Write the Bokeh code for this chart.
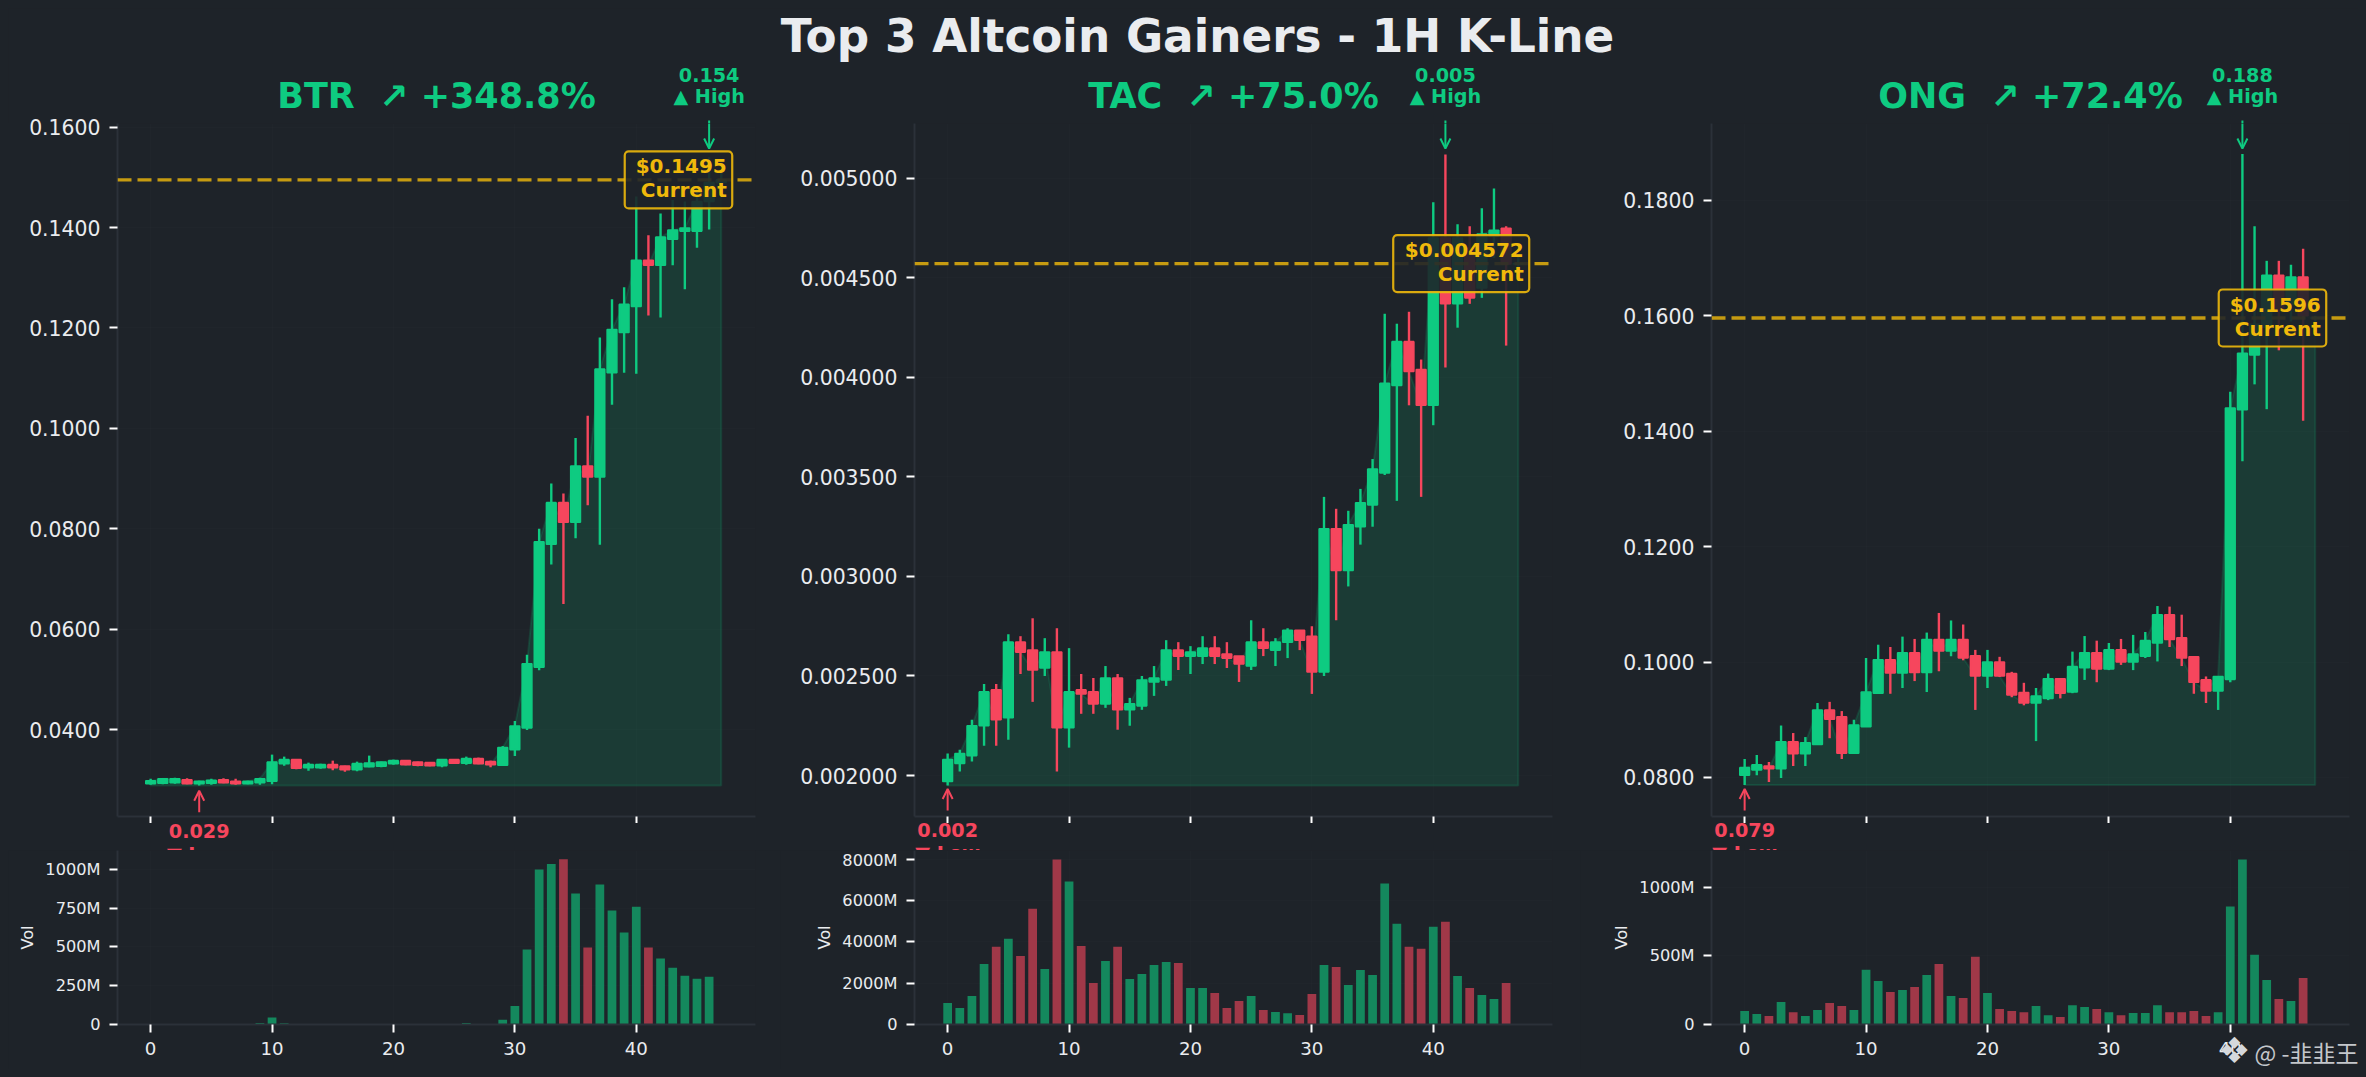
from bokeh.plotting import figure
from bokeh.layouts import column, row
from bokeh.models import (Range1d, FixedTicker, PrintfTickFormatter, Label, Span, BoxAnnotation,
                          Arrow, OpenHead, ColumnDataSource)
from bokeh.embed import file_html
from bokeh.resources import INLINE

BG = "#1e2329"
UP = "#0ecb81"
DOWN = "#f6465d"
GOLD = "#f0b90b"
SPINE = "#2b3139"
TXT = "#eaecef"

title_text = "Top 3 Altcoin Gainers - 1H K-Line"
x_ticks = [0, 10, 20, 30, 40]

# ---------- BTR
btr_name = "BTR\u00a0\u00a0↗ +348.8%"
btr_open = [.0292,.0293,.0294,.0300,.0292,.0293,.0300,.0297,.0292,.0294,.0297,.0332,.0340,.0324,.0324,.0330,.0327,.0320,.0326,.0327,.0332,.0338,.0335,.0334,.0328,.0340,.0333,.0342,.0336,.0329,.0360,.0403,.0524,.0769,.0852,.0813,.0925,.0903,.1111,.1191,.1243,.1335,.1325,.1377,.1393,.1393,.1452,.1490]
btr_high = [.0302,.0303,.0304,.0303,.0298,.0302,.0303,.0302,.0298,.0304,.0350,.0346,.0341,.0334,.0332,.0338,.0328,.0336,.0348,.0336,.0340,.0339,.0336,.0335,.0341,.0341,.0346,.0344,.0338,.0367,.0417,.0549,.0800,.0890,.0870,.0981,.1025,.1181,.1257,.1281,.1462,.1385,.1428,.1455,.1452,.1480,.1540,.1510]
btr_low = [.0290,.0291,.0292,.0291,.02885,.0290,.0293,.0290,.0291,.0290,.0291,.0328,.0321,.0318,.0322,.0319,.0316,.0317,.0325,.0325,.0330,.0329,.0327,.0327,.0325,.0332,.0330,.0331,.0325,.0328,.0347,.0399,.0518,.0729,.0650,.0781,.0847,.0768,.1047,.1111,.1109,.1225,.1221,.1325,.1277,.1360,.1396,.1480]
btr_close = [.0298,.0302,.0302,.0292,.0297,.0299,.0294,.0292,.0297,.0302,.0335,.0340,.0323,.0330,.0330,.0324,.0320,.0332,.0333,.0335,.0338,.0330,.0329,.0328,.0340,.0333,.0342,.0332,.0330,.0364,.0407,.0531,.0774,.0852,.0813,.0925,.0903,.1118,.1197,.1247,.1335,.1325,.1381,.1395,.1399,.1452,.1490,.1495]
btr_vol = [2,2,3,2,2,2,2,2,2,10,45,8,3,2,2,2,2,2,2,2,2,2,2,2,3,3,10,3,3,30,120,483,1000,1035,1065,845,497,903,735,594,760,497,425,366,314,295,308]
btr_yticks = [.04,.06,.08,.10,.12,.14,.16]
btr_vticks = [0,250,500,750,1000]
btr_cur = .1495

# ---------- TAC
tac_name = "TAC\u00a0\u00a0↗ +75.0%"
tac_open = [.00197,.00206,.00210,.00225,.00243,.00229,.00267,.00263,.00254,.00262,.00224,.00243,.00242,.00236,.00249,.00233,.00235,.00247,.00248,.00263,.00260,.00260,.00264,.00261,.00260,.00255,.00267,.00263,.00267,.00273,.00270,.00252,.00324,.00303,.00325,.00336,.00352,.00396,.00418,.00404,.00386,.00470,.00437,.00465,.00445,.00471,.00475,.00457]
tac_high = [.00211,.00213,.00228,.00246,.00246,.00271,.00270,.00279,.00269,.00274,.00264,.00251,.00249,.00255,.00251,.00239,.00250,.00255,.00268,.00267,.00265,.00270,.00270,.00267,.00260,.00278,.00274,.00269,.00274,.00273,.00275,.00340,.00334,.00333,.00344,.00359,.00432,.00427,.00433,.00409,.00488,.00512,.00477,.00476,.00485,.00495,.00476,.00462]
tac_low = [.00195,.00202,.00207,.00215,.00215,.00218,.00251,.00237,.00250,.00202,.00214,.00231,.00231,.00234,.00223,.00225,.00233,.00240,.00245,.00253,.00251,.00256,.00256,.00254,.00247,.00253,.00260,.00255,.00259,.00263,.00241,.00250,.00278,.00295,.00316,.00325,.00351,.00338,.00386,.00340,.00376,.00405,.00425,.00437,.00440,.00460,.00416,.00450]
tac_close = [.00208,.00211,.00225,.00242,.00228,.00267,.00262,.00253,.00262,.00224,.00242,.00241,.00236,.00249,.00233,.00236,.00248,.00249,.00263,.00260,.00262,.00264,.00260,.00259,.00256,.00267,.00264,.00267,.00273,.00268,.00252,.00324,.00303,.00326,.00337,.00354,.00397,.00418,.00403,.00386,.00470,.00437,.00470,.00440,.00472,.00474,.00457,.004572]
tac_vol = [1040,795,1376,2930,3757,4146,3320,5600,2688,7985,6917,3800,2008,3077,3757,2200,2445,2883,3028,2980,1765,1765,1522,794,1134,1377,696,600,550,454,1474,2883,2786,1911,2640,2398,6820,4876,3757,3660,4730,4973,2350,1765,1425,1231,2008]
tac_yticks = [.002,.0025,.003,.0035,.004,.0045,.005]
tac_vticks = [0,2000,4000,6000,8000]
tac_cur = .004572

# ---------- ONG
ong_name = "ONG\u00a0\u00a0↗ +72.4%"
ong_open = [.0804,.0813,.0820,.0815,.0862,.0841,.0857,.0917,.0905,.0842,.0888,.0946,.1004,.0981,.1016,.0982,.1039,.1019,.1039,.1011,.0976,.1000,.0980,.0947,.0929,.0937,.0971,.0948,.0990,.1016,.0988,.1021,.1000,.1010,.1033,.1082,.1042,.1009,.0969,.0950,.0970,.1437,.1532,.1580,.1670,.1620,.1667,.1596]
ong_high = [.0832,.0839,.0827,.0890,.0877,.0870,.0929,.0931,.0915,.0900,.1007,.1030,.1026,.1044,.1040,.1051,.1085,.1072,.1065,.1021,.1021,.1009,.0983,.0964,.0955,.0980,.0971,.1018,.1045,.1037,.1033,.1040,.1047,.1052,.1097,.1096,.1082,.1009,.0975,.0975,.1468,.1880,.1755,.1695,.1695,.1688,.1716,.1600]
ong_low = [.0787,.0804,.0792,.0799,.0820,.0820,.0857,.0868,.0832,.0842,.0888,.0946,.0945,.0955,.0967,.0948,.0984,.1010,.1003,.0917,.0955,.0974,.0939,.0925,.0863,.0934,.0937,.0946,.0969,.0965,.0986,.0995,.0986,.1007,.1001,.1026,.0993,.0945,.0929,.0917,.0965,.1348,.1481,.1438,.1540,.1590,.1418,.1590]
ong_close = [.0817,.0822,.0815,.0862,.0841,.0860,.0917,.0901,.0842,.0891,.0948,.1004,.0981,.1016,.0982,.1039,.1019,.1039,.1007,.0976,.1000,.0976,.0943,.0929,.0941,.0971,.0946,.0992,.1016,.0988,.1021,.1000,.1014,.1037,.1082,.1039,.1007,.0965,.0950,.0975,.1440,.1535,.1585,.1670,.1612,.1667,.1600,.1596]
ong_vol = [98,76,61,163,90,61,105,156,134,105,398,317,237,251,273,361,441,207,193,493,229,112,98,90,134,68,54,141,127,112,90,68,83,83,141,90,90,98,61,90,859,1202,507,324,185,171,339]
ong_yticks = [.08,.10,.12,.14,.16,.18]
ong_vticks = [0,500,1000]
ong_cur = .1596

X_MIN, X_MAX = -2.73, 49.82
FRAME_W = 638
MAIN_TOP, MAIN_BOTTOM = 123, 816   # page pixels of the price frame
BASE_K = 0.346                     # Label baseline offset, in em


def style_axes(p, tick_size):
    p.background_fill_color = BG
    p.border_fill_color = BG
    p.outline_line_color = None
    for ax in (p.xaxis[0], p.yaxis[0]):
        ax.axis_line_color = SPINE
        ax.axis_line_width = 2
        ax.major_tick_line_color = "#ffffff"
        ax.major_tick_line_width = 2
        ax.major_tick_in = 0
        ax.major_tick_out = 8
        ax.minor_tick_line_color = None
        ax.major_label_text_color = TXT
        ax.major_label_text_font = "DejaVu Sans"
        ax.major_label_standoff = 9
    p.yaxis[0].major_label_text_font_size = tick_size
    p.grid.grid_line_color = "#ffffff"
    p.grid.grid_line_alpha = 0.012
    p.grid.grid_line_width = 1


def base_label(fig, x, page_y, text, size, color, align="center", font="DejaVu Sans", bold=True, conv=None):
    """Text whose baseline sits at page row page_y."""
    yy = page_y - BASE_K * size
    fig.add_layout(Label(x=x, y=conv(yy) if conv else yy, text=text, text_color=color, text_align=align,
                         text_baseline="alphabetic", text_font=font,
                         text_font_style="bold" if bold else "normal", text_font_size=f"{size}px"))


def panel(o, h, l, c, vol, yticks, vticks, cur, hi_x, lo_x, cur_txt, ytop, ybot, vtop, yfmt,
          left, right, box_w, low_a0, vol_standoff):
    xs = list(range(len(o)))
    W = left + FRAME_W + right
    colors = [UP if b >= a else DOWN for a, b in zip(o, c)]
    src = ColumnDataSource(dict(x=xs, o=o, c=c, h=h, l=l, col=colors))

    p = figure(width=W, height=710, x_range=Range1d(X_MIN, X_MAX), y_range=Range1d(ybot, ytop),
               min_border_left=left, min_border_right=right, min_border_top=10, min_border_bottom=7,
               toolbar_location=None, output_backend="svg", tools="")
    style_axes(p, "20.4px")
    p.border_fill_color = None
    p.xaxis[0].ticker = FixedTicker(ticks=x_ticks)
    p.xaxis[0].major_label_text_color = None
    p.xaxis[0].major_label_text_font_size = "0px"
    p.xaxis[0].major_label_standoff = 0
    p.xaxis[0].major_tick_out = 7
    p.yaxis[0].ticker = FixedTicker(ticks=yticks)
    p.yaxis[0].formatter = PrintfTickFormatter(format=yfmt)

    def py(page_y):
        return ytop - (page_y - MAIN_TOP) / (MAIN_BOTTOM - MAIN_TOP) * (ytop - ybot)

    def px(dx):
        return dx * (X_MAX - X_MIN) / FRAME_W

    base = min(l)
    ax = xs + xs[::-1]
    ay = c + [base] * len(xs)
    p.patch(ax, ay, fill_color=UP, fill_alpha=0.15, line_color=UP, line_alpha=0.15, line_width=2)
    p.segment("x", "l", "x", "h", source=src, line_color="col", line_width=2.4)
    p.vbar(x="x", bottom="o", top="c", width=0.8, source=src, fill_color="col", line_color="col", line_width=1.6)

    p.add_layout(Span(location=cur, dimension="width", line_color=GOLD, line_alpha=0.8,
                      line_width=3.4, line_dash="14 6"))

    cy = MAIN_TOP + (ytop - cur) / (ytop - ybot) * (MAIN_BOTTOM - MAIN_TOP)
    tx = 47.45
    p.add_layout(BoxAnnotation(left=tx - px(box_w), right=tx + px(5.5), top=py(cy - 28.5), bottom=py(cy + 28.5),
                               fill_color=BG, fill_alpha=0.9, line_color=GOLD, line_alpha=0.9, line_width=2.2,
                               border_radius=4))
    base_label(p, tx, cy - 6.5, cur_txt, 20, GOLD, "right", conv=py)
    base_label(p, tx, cy + 17.5, "Current", 20, GOLD, "right", conv=py)

    p.add_layout(Arrow(end=OpenHead(size=10, line_color=UP, line_width=2),
                       x_start=hi_x, y_start=py(120), x_end=hi_x, y_end=py(148),
                       line_color=UP, line_width=2))
    p.add_layout(Arrow(end=OpenHead(size=10, line_color=DOWN, line_width=2),
                       x_start=lo_x, y_start=py(low_a0), x_end=lo_x, y_end=py(low_a0 - 21.5),
                       line_color=DOWN, line_width=2))

    vx = list(range(len(vol)))
    vsrc = ColumnDataSource(dict(x=vx, v=vol, col=colors[:len(vol)]))
    q = figure(width=W, height=219, x_range=Range1d(X_MIN, X_MAX), y_range=Range1d(0, vtop),
               min_border_left=left, min_border_right=right, min_border_top=0, min_border_bottom=45,
               toolbar_location=None, output_backend="svg", tools="")
    style_axes(q, "16.2px")
    q.vbar(x="x", top="v", bottom=0, width=0.72, source=vsrc, fill_color="col", fill_alpha=0.6, line_color=None)
    q.xaxis[0].ticker = FixedTicker(ticks=x_ticks)
    q.xaxis[0].major_label_text_font_size = "18.2px"
    q.yaxis[0].ticker = FixedTicker(ticks=vticks)
    q.yaxis[0].formatter = PrintfTickFormatter(format="%dM")
    q.yaxis[0].major_label_overrides = {0: "0"}
    q.yaxis[0].axis_label = "Vol"
    q.yaxis[0].axis_label_text_font = "DejaVu Sans"
    q.yaxis[0].axis_label_text_font_style = "normal"
    q.yaxis[0].axis_label_text_font_size = "16.2px"
    q.yaxis[0].axis_label_text_color = TXT
    q.yaxis[0].axis_label_standoff = vol_standoff
    return p, q


p1, q1 = panel(btr_open, btr_high, btr_low, btr_close, btr_vol, btr_yticks, btr_vticks,
               btr_cur, 46, 4, "$0.1495", .16074, .02267, 1122, "%.4f", 109, 25, 102, 811.7, 5)
p2, q2 = panel(tac_open, tac_high, tac_low, tac_close, tac_vol, tac_yticks, tac_vticks,
               tac_cur, 41, 0, "$0.004572", .005276, .001794, 8421, "%.6f", 134, 28, 130.5, 810, 5)
p3, q3 = panel(ong_open, ong_high, ong_low, ong_close, ong_vol, ong_yticks, ong_vticks,
               ong_cur, 41, 0, "$0.1596", .19329, .07324, 1267, "%.4f", 131, 9, 102, 810, 5)


def strip(w, h, x0, x1, y_bottom, y_top):
    s = figure(width=w, height=h, x_range=Range1d(x0, x1), y_range=Range1d(y_bottom, y_top),
               min_border=0, toolbar_location=None, output_backend="svg", tools="")
    s.axis.visible = False
    s.grid.visible = False
    s.outline_line_color = None
    s.background_fill_color = BG
    s.border_fill_color = BG
    return s


def page_x(frame_left, i):
    return frame_left + (i - X_MIN) * FRAME_W / (X_MAX - X_MIN)


# header strip: page rows 8..123, lying under the transparent top border of the price panels
head = strip(2350, 115, 8, 2358, 123, 8)
base_label(head, 1197, 52, title_text, 45.3, TXT)
for fl, name, hx, ht in [(117, btr_name, 46, "0.154"), (914, tac_name, 41, "0.005"), (1711, ong_name, 41, "0.188")]:
    base_label(head, fl + FRAME_W / 2, 108, name, 35, UP)
    base_label(head, page_x(fl, hx), 81, ht, 19.2, UP)
    base_label(head, page_x(fl, hx), 103, "▲ High", 19.2, UP)
    head.segment([page_x(fl, hx)], [120], [page_x(fl, hx)], [123], line_color=UP, line_width=2)

# low strip: page rows 816..850, transparent over the price panels' bottom border;
# the volume panels cut the second line
low = strip(2350, 34, 8, 2358, 850, 816)
low.background_fill_color = None
low.border_fill_color = None
low.margin = (-7, 0, 0, 0)
for fl, lx, lt, by in [(117, 4, "0.029", 837), (914, 0, "0.002", 836), (1711, 0, "0.079", 836)]:
    base_label(low, page_x(fl, lx), by, lt, 19.2, DOWN)
    base_label(low, page_x(fl, lx), by + 23.5, "▼ Low", 19.2, DOWN)

# watermark, laid over the bottom right corner
wm = strip(140, 33, 2218, 2358, 1069, 1036)
wm.background_fill_color = None
wm.border_fill_color = None
wm.margin = (-33, 0, 0, 2210)
wm.add_layout(Label(x=2234, y=1050, text="❖", text_color="#d5d8dc", text_align="center", text_baseline="middle",
                    text_font="DejaVu Sans", text_font_size="36px"))
wm.add_layout(Label(x=2254, y=1051, text="@ -韭韭王", text_color="#c4c7cb", text_align="left", text_baseline="middle",
                    text_font="Noto Sans CJK SC", text_font_size="23px"))

main_row = row(p1, p2, p3, spacing=0)
main_row.margin = (-10, 0, 0, 0)
vol_row = row(q1, q2, q3, spacing=0)

layout = column(head, main_row, low, vol_row, wm, spacing=0)

TEMPLATE = """{% block postamble %}<style>html,body{background:#1e2329;height:auto !important;}body{margin:8px !important;}</style>{% endblock %}"""
open("out.html", "w").write(file_html(layout, INLINE, title="Top 3 Altcoin Gainers", template=TEMPLATE))
